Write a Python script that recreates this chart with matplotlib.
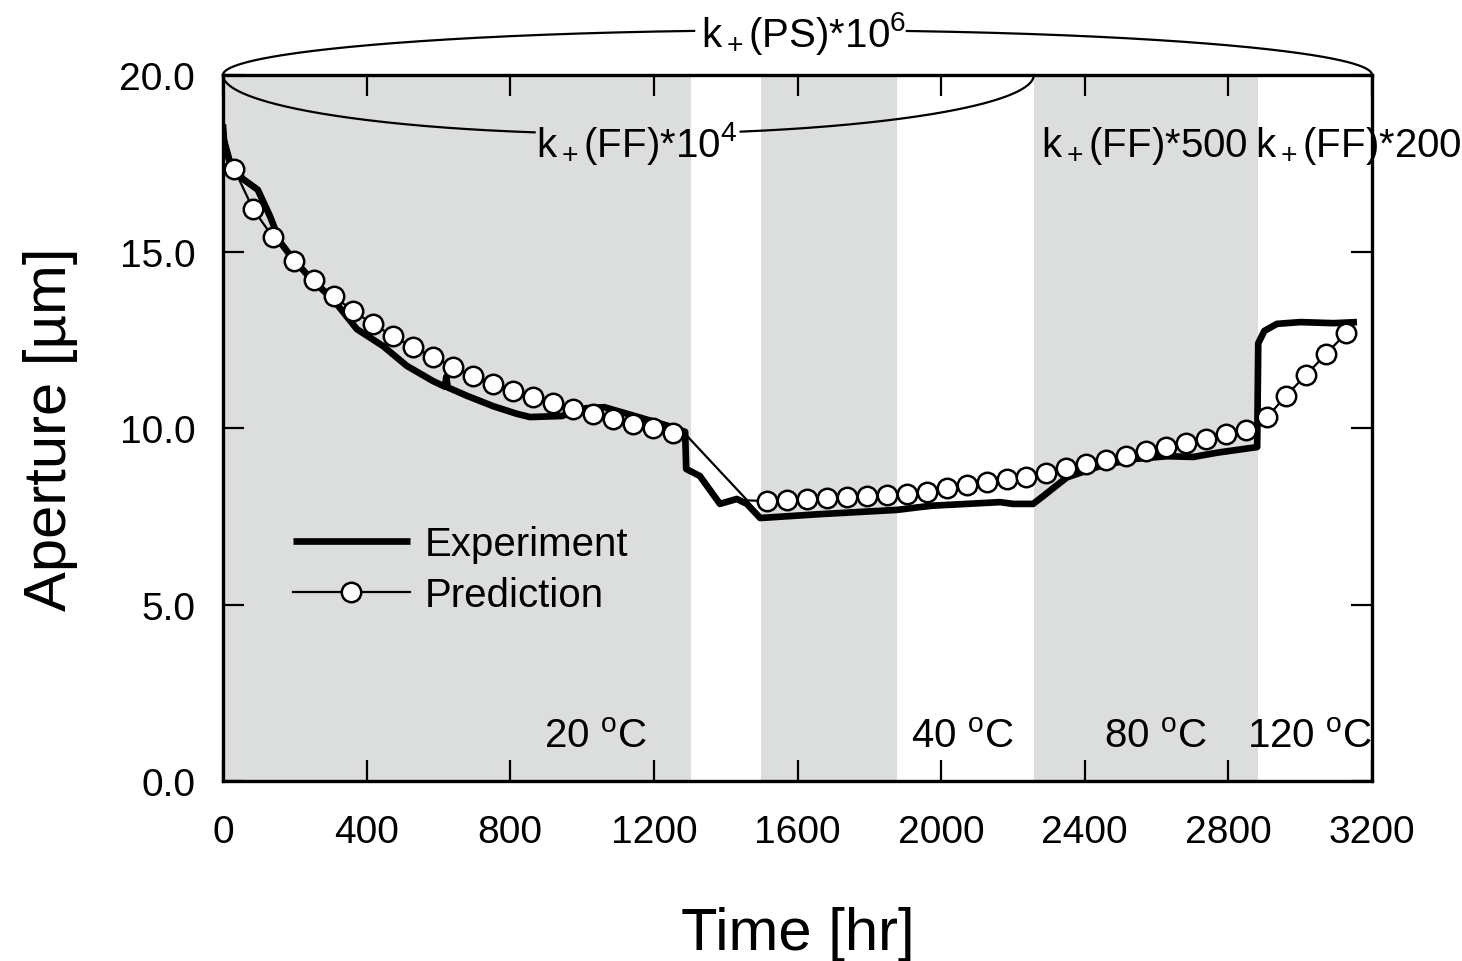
import numpy as np
import matplotlib
matplotlib.use("Agg")
import matplotlib.pyplot as plt

plt.rcParams['font.family'] = ['Liberation Sans', 'DejaVu Sans']
plt.rcParams['mathtext.fontset'] = 'custom'
plt.rcParams['mathtext.rm'] = 'Liberation Sans'
plt.rcParams['mathtext.it'] = 'Liberation Sans:italic'
plt.rcParams['mathtext.bf'] = 'Liberation Sans:bold'

# Measured aperture (thick line)
exp_time = [0, 4, 20, 56, 97, 131, 159, 195, 251, 306, 373, 446, 512, 585,
            618, 622, 626, 680, 752, 819, 855, 944, 975, 1010, 1062, 1150,
            1250, 1287, 1290, 1328, 1384, 1431, 1459, 1496, 1663, 1877,
            1941, 1977, 2164, 2200, 2256, 2284, 2350, 2442, 2535, 2629,
            2702, 2768, 2880, 2883, 2900, 2935, 3000, 3092, 3158]
exp_aperture = [18.6, 18.0, 17.5, 17.05, 16.75, 16.0, 15.27, 14.79, 14.16,
                13.65, 12.8, 12.32, 11.76, 11.33, 11.17, 11.45, 11.15, 10.91,
                10.62, 10.40, 10.31, 10.34, 10.45, 10.56, 10.59, 10.33,
                10.03, 9.89, 8.84, 8.64, 7.85, 7.99, 7.85, 7.45, 7.56, 7.68,
                7.76, 7.80, 7.90, 7.85, 7.85, 8.07, 8.60, 8.92, 9.12, 9.20,
                9.18, 9.30, 9.46, 12.40, 12.75, 12.95, 13.00, 12.97, 13.00]

# Model prediction (thin line with open circles)
pred_time = [0, 31, 84, 139, 198, 253, 309, 362, 418, 473, 529, 585, 641,
             696, 752, 808, 863, 919, 975, 1030, 1086, 1142, 1198, 1253,
             1290, 1460, 1515, 1571, 1626, 1682, 1738, 1794, 1849, 1905,
             1961, 2016, 2072, 2128, 2183, 2236, 2292, 2348, 2403, 2459,
             2515, 2571, 2626, 2682, 2738, 2793, 2849, 2908, 2960, 3016,
             3072, 3128]
pred_aperture = [18.5, 17.34, 16.2, 15.41, 14.73, 14.19, 13.74, 13.31, 12.95,
                 12.60, 12.29, 12.01, 11.73, 11.48, 11.25, 11.05, 10.88,
                 10.71, 10.54, 10.40, 10.25, 10.11, 10.00, 9.86, 9.80, 7.95,
                 7.93, 7.96, 7.99, 8.02, 8.05, 8.07, 8.10, 8.14, 8.19, 8.30,
                 8.38, 8.46, 8.55, 8.62, 8.73, 8.87, 8.98, 9.10, 9.22, 9.34,
                 9.46, 9.58, 9.70, 9.82, 9.94, 10.31, 10.91, 11.50, 12.10,
                 12.69]
pred_unmarked_times = {0, 1290, 1460}

# Temperature stages (shaded spans) and their labels
shaded_spans = [(0, 1302), (1498, 1876), (2258, 2883)]
temp_labels = ['20 $^{\\mathrm{o}}$C', '40 $^{\\mathrm{o}}$C',
               '80 $^{\\mathrm{o}}$C', '120 $^{\\mathrm{o}}$C']
temp_label_x = [1036, 2058, 2596, 3027]

x_ticks = list(range(0, 3201, 400))
y_ticks = [0, 5, 10, 15, 20]

GRAY = '#dcdddd'

fig = plt.figure(figsize=(14.62, 9.62), dpi=100)
ax = fig.add_axes([0.1525, 0.1871, 0.786, 0.7339])

for x0, x1 in shaded_spans:
    ax.axvspan(x0, x1, color=GRAY, lw=0, zorder=0)

ax.plot(exp_time, exp_aperture, color='black', lw=4.8,
        solid_joinstyle='round', solid_capstyle='butt', zorder=3,
        label='Experiment')
marks = [i for i, t in enumerate(pred_time) if t not in pred_unmarked_times]
ax.plot(pred_time, pred_aperture, color='black', lw=1.6, marker='o',
        markevery=marks, ms=14, mfc='white', mec='black', mew=1.8,
        zorder=4, label='Prediction')

ax.set_xlim(0, 3200)
ax.set_ylim(0, 20)
ax.set_xticks(x_ticks)
ax.set_yticks(y_ticks)
ax.set_yticklabels([f'{v:.1f}' for v in y_ticks])
ax.tick_params(direction='in', length=15, width=1.6, labelsize=28,
               top=True, right=True)
ax.tick_params(axis='x', pad=24)
ax.tick_params(axis='y', pad=20)
for s in ax.spines.values():
    s.set_linewidth(2.4)

ax.set_xlabel('Time [hr]', fontsize=43, labelpad=40)
ax.set_ylabel('Aperture [\u00b5m]', fontsize=43, labelpad=30)

# Temperature stage labels
for lab, xt in zip(temp_labels, temp_label_x):
    ax.text(xt, 0.96, lab, fontsize=29, ha='center', va='baseline', zorder=5)

# Rate-constant brackets drawn as half ellipses on the top frame
def half_ellipse(x0, x1, depth, gap, upper):
    cx, a = (x0 + x1) / 2, (x1 - x0) / 2
    t = np.linspace(0, np.pi, 600)
    xs = cx + a * np.cos(t)
    ys = 20 + (depth if upper else -depth) * np.sin(t)
    ys = np.where((xs > gap[0]) & (xs < gap[1]), np.nan, ys)
    ax.plot(xs, ys, color='black', lw=1.6, clip_on=False, zorder=6)

half_ellipse(0, 3200, 1.27, (1320, 1900), upper=True)
half_ellipse(0, 2258, 1.67, (869, 1440), upper=False)

ax.text(1618, 20.82, 'k$_+$(PS)*10$^6$', fontsize=29, ha='center',
        va='baseline', clip_on=False, zorder=7)
ax.text(1153, 17.71, 'k$_+$(FF)*10$^4$', fontsize=29, ha='center',
        va='baseline', zorder=7)
ax.text(2565, 17.71, 'k$_+$(FF)*500', fontsize=29, ha='center',
        va='baseline', zorder=7)
ax.text(3163, 17.71, 'k$_+$(FF)*200', fontsize=29, ha='center',
        va='baseline', clip_on=False, zorder=7)

ax.legend(loc='upper left', bbox_to_anchor=(0.061, 0.3625), frameon=False,
          fontsize=29, borderpad=0, borderaxespad=0, handlelength=2.9,
          handletextpad=0.37, labelspacing=0.32, numpoints=1)

fig.savefig('out.png', dpi=100)
